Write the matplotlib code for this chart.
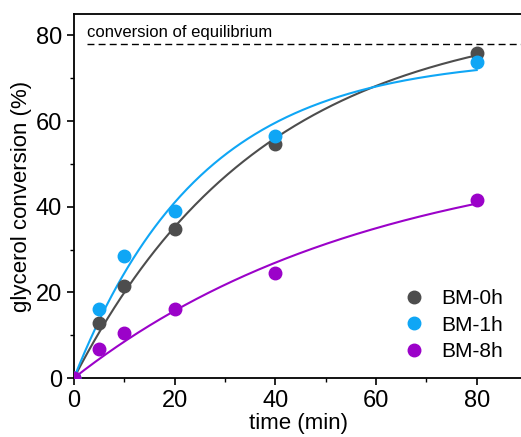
import numpy as np
import matplotlib
matplotlib.use("Agg")
import matplotlib.pyplot as plt
from matplotlib.ticker import MultipleLocator

plt.rcParams['font.family'] = ['Liberation Sans', 'DejaVu Sans']

time = [0, 5, 10, 20, 40, 80]
series = {
    "BM-0h": [0, 12.8, 21.4, 34.7, 54.6, 76.0],
    "BM-1h": [0, 16.0, 28.6, 38.9, 56.5, 73.8],
    "BM-8h": [0, 6.7, 10.4, 16.2, 24.5, 41.5],
}
colors = {"BM-0h": "#4d4d4d", "BM-1h": "#0fa6f5", "BM-8h": "#9b02c9"}
equilibrium = 78
eq_label = "conversion of equilibrium"


def fit_first_order(t, y):
    t = np.asarray(t, float)
    y = np.asarray(y, float)
    best = None
    for k in np.linspace(0.001, 0.2, 4000):
        f = 1 - np.exp(-k * t)
        A = np.dot(f, y) / np.dot(f, f)
        err = np.sum((A * f - y) ** 2)
        if best is None or err < best[0]:
            best = (err, A, k)
    return best[1], best[2]


fig = plt.figure(figsize=(5.21, 4.37), dpi=100)
ax = fig.add_axes([0.142, 0.135, 0.86, 0.833])

tt = np.linspace(0, 80, 300)
for name, vals in series.items():
    A, k = fit_first_order(time, vals)
    ax.plot(tt, A * (1 - np.exp(-k * tt)), color=colors[name], lw=1.5, zorder=2)
    ax.plot(time, vals, 'o', color=colors[name], ms=9, label=name, zorder=3,
            linestyle='none')

ax.axhline(equilibrium, xmin=2.5 / 89, xmax=1, color='black', lw=1.0,
           dashes=(5, 3))
ax.text(2.5, 79.0, eq_label, fontsize=12, va='bottom', ha='left')

ax.set_xlim(0, 89)
ax.set_ylim(0, 85)
ax.xaxis.set_major_locator(MultipleLocator(20))
ax.xaxis.set_minor_locator(MultipleLocator(10))
ax.yaxis.set_major_locator(MultipleLocator(20))
ax.yaxis.set_minor_locator(MultipleLocator(10))
ax.tick_params(which='major', direction='out', length=5, width=1.2, labelsize=17)
ax.tick_params(which='minor', direction='out', length=3, width=1.0)
for s in ax.spines.values():
    s.set_linewidth(1.3)
ax.spines['right'].set_visible(False)

ax.set_xlabel("time (min)", fontsize=16, labelpad=1)
ax.set_ylabel("glycerol conversion (%)", fontsize=16, labelpad=3)

ax.legend(loc='lower right', frameon=False, fontsize=15, handletextpad=0.3,
          markerscale=1.0, bbox_to_anchor=(1.0, -0.005), labelspacing=0.35)

fig.savefig("out.png", dpi=100)
